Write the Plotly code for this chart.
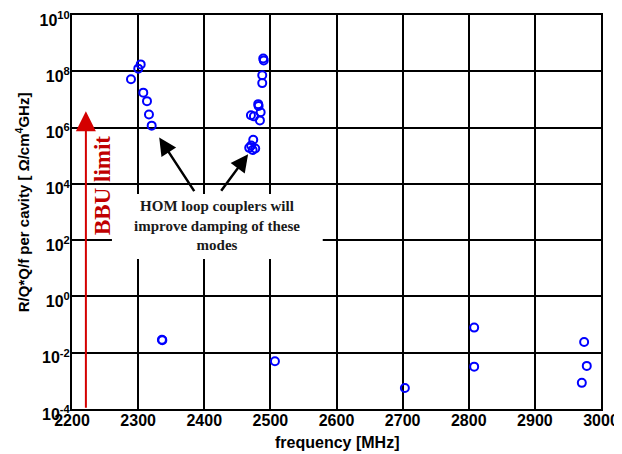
import plotly.graph_objects as go

# Mode data
freq_group1 = [2289.2, 2300.2, 2303.9, 2307.8, 2313.4, 2316.4, 2320.5]
rq_group1 = [5.2e7, 1.24e8, 1.76e8, 1.74e7, 8.7e6, 2.9e6, 1.17e6]

freq_group2 = [2489.2, 2490.0, 2487.7, 2487.7, 2481.6, 2482.2, 2485.3, 2470.6,
               2475.1, 2484.2, 2474.1, 2471.0, 2468.0, 2477.1, 2473.2]
rq_group2 = [2.86e8, 2.44e8, 7.2e7, 3.8e7, 6.8e6, 5.9e6, 3.5e6, 2.75e6,
             2.5e6, 1.8e6, 3.7e5, 2.3e5, 1.9e5, 1.8e5, 1.6e5]

freq_group3 = [2336.0, 2336.6, 2506.9, 2703.4, 2808.2, 2808.2, 2974.5, 2978.5, 2971.0]
rq_group3 = [0.029, 0.028, 0.005, 5.6e-4, 0.078, 0.0032, 0.024, 0.0034, 8.5e-4]

x_ticks = [2200, 2300, 2400, 2500, 2600, 2700, 2800, 2900, 3000]
y_ticks = [1e-4, 1e-2, 1e0, 1e2, 1e4, 1e6, 1e8, 1e10]
y_ticktext = ["<b>10<sup>-4</sup></b>", "<b>10<sup>-2</sup></b>", "<b>10<sup>0</sup></b>",
              "<b>10<sup>2</sup></b>", "<b>10<sup>4</sup></b>", "<b>10<sup>6</sup></b>",
              "<b>10<sup>8</sup></b>", "<b>10<sup>10</sup></b>"]

bbu_freq = 2221
bbu_limit_log = 6.58

freqs = freq_group1 + freq_group2 + freq_group3
rqs = rq_group1 + rq_group2 + rq_group3

fig = go.Figure()
fig.add_trace(go.Scatter(
    x=freqs, y=rqs, mode="markers",
    marker=dict(symbol="circle-open", size=8, color="#0000ff",
                line=dict(width=2, color="#0000ff")),
    showlegend=False, hoverinfo="x+y"))

sans = "Liberation Sans, Arial, sans-serif"
serif = "Liberation Serif, Times New Roman, serif"

# page body has an 8px margin, so the figure is offset by (8, 8)
fig.update_layout(
    width=614, height=446,
    margin=dict(l=64, r=20.5, t=6.5, b=44.5),
    paper_bgcolor="white", plot_bgcolor="white",
    font=dict(family=sans, color="black"),
    xaxis=dict(range=[2200, 3000], tickvals=x_ticks,
               ticktext=["<b>%d</b>" % v for v in x_ticks],
               showgrid=True, gridcolor="black", gridwidth=1.5,
               showline=True, linecolor="black", linewidth=2, mirror=True,
               zeroline=False, ticks="", automargin=False, ticklabelstandoff=-4,
               ticklabeloverflow="allow",
               tickfont=dict(family=sans, size=16, color="black")),
    yaxis=dict(type="log", range=[-4, 10], tickvals=y_ticks, ticktext=y_ticktext,
               showgrid=True, gridcolor="black", gridwidth=1.5,
               showline=True, linecolor="black", linewidth=2, mirror=True,
               zeroline=False, ticks="", automargin=False, ticklabelstandoff=-3,
               ticklabelshift=5, ticklabeloverflow="allow",
               tickfont=dict(family=sans, size=16, color="black")),
)

# axis titles
fig.add_annotation(x=0.5, y=-0.058, xref="paper", yref="paper",
                   xanchor="center", yanchor="top",
                   text="<b>frequency [MHz]</b>", showarrow=False,
                   font=dict(family=sans, size=16, color="black"))
fig.add_annotation(x=-0.0944, y=0.525, xref="paper", yref="paper",
                   xanchor="center", yanchor="middle",
                   text="<b>R/Q*Q/f per cavity [ Ω/cm<sup>4</sup>GHz]</b>",
                   textangle=-90, showarrow=False,
                   font=dict(family=sans, size=15, color="black"))

# white text box
fig.add_shape(type="rect", xref="paper", yref="paper",
              x0=0.0755, x1=0.474, y0=0.381, y1=0.5456,
              fillcolor="white", line=dict(width=0), layer="above")

fig.add_annotation(x=2419.8, y=0.4646, xref="x", yref="paper",
                   xanchor="center", yanchor="middle",
                   text="<b>HOM loop couplers will<br>improve damping of these<br>modes</b>",
                   showarrow=False, align="center",
                   font=dict(family=serif, size=15, color="#1a1a1a"))

# arrows to the mode clusters
fig.add_annotation(x=2331.9, y=5.645, xref="x", yref="y", ax=36, ay=55,
                   text="", showarrow=True, arrowhead=2, arrowsize=1.4,
                   arrowwidth=2.5, arrowcolor="black")
fig.add_annotation(x=2466.3, y=5.053, xref="x", yref="y", ax=-28, ay=38,
                   text="", showarrow=True, arrowhead=2, arrowsize=1.4,
                   arrowwidth=2.5, arrowcolor="black")

# BBU limit arrow
fig.add_annotation(x=bbu_freq, y=bbu_limit_log, xref="x", yref="y", ax=0, ay=298,
                   text="", showarrow=True, arrowhead=2, arrowsize=2,
                   arrowwidth=2, arrowcolor="#d40000")
fig.add_annotation(x=2245, y=3.95, xref="x", yref="y",
                   xanchor="center", yanchor="middle",
                   text="<b>BBU limit</b>", textangle=-90, showarrow=False,
                   font=dict(family=serif, size=23, color="#c00000"))

fig.write_html("out.html")
